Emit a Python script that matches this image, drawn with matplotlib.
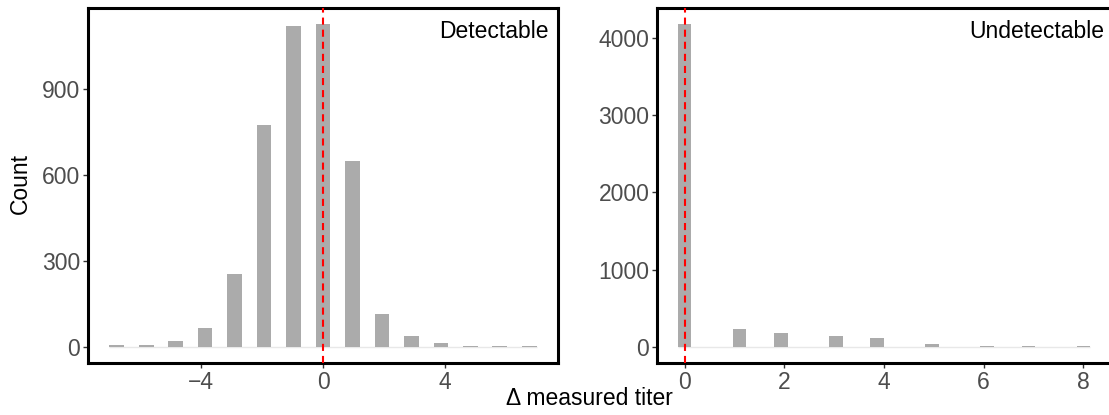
import numpy as np
import matplotlib
matplotlib.use("Agg")
import matplotlib.pyplot as plt

# Delta measured titer, counts per value
det_titer = [-7, -6, -5, -4, -3, -2, -1, 0, 1, 2, 3, 4, 5, 6, 7]
det_count = [6, 6, 21, 65, 253, 775, 1120, 1125, 647, 113, 38, 13, 3, 3, 3]

undet_titer = [0, 1, 2, 3, 4, 5, 6, 7, 8]
undet_count = [4180, 236, 185, 146, 120, 43, 10, 10, 10]

det_yticks = [0, 300, 600, 900]
det_xticks = [-4, 0, 4]
undet_yticks = [0, 1000, 2000, 3000, 4000]
undet_xticks = [0, 2, 4, 6, 8]

plt.rcParams['font.family'] = ['Liberation Sans', 'DejaVu Sans']

BAR = '#ABABAB'
TICK = '#4D4D4D'
FS = 16.5


def hist_bars(ax, titer, count, nbins=30):
    # ggplot-style histogram with 30 bins: bins centred on multiples of width
    titer = np.asarray(titer, dtype=float)
    span = titer.max() - titer.min()
    w = span / (nbins - 1)
    k = np.round(titer * (nbins - 1) / span)
    x = k * w
    ax.hlines(0, x.min() - w / 2, x.max() + w / 2, color='#E8E8E8', lw=1, zorder=1)
    ax.bar(x, count, width=w, color=BAR, zorder=2)
    ax.axvline(0, color='red', lw=1.5, ls=(0, (3.4, 2.4)), zorder=3)
    return x, w


def style(ax, xt, yt, label, xr):
    for s in ax.spines.values():
        s.set_linewidth(2.2)
        s.set_color('black')
    ax.set_xticks(xt)
    ax.set_yticks(yt)
    ax.set_xticklabels([str(v).replace('-', '\u2212') for v in xt])
    ax.tick_params(length=3.5, width=1, color='#333333', labelcolor=TICK,
                   labelsize=FS, pad=2)
    ax.text(xr, 0.9155, label, transform=ax.transAxes, ha='right', va='baseline',
            fontsize=FS, color='black')


fig = plt.figure(figsize=(11.09, 4.15), dpi=100)
ax1 = fig.add_axes([88 / 1109, 1 - 363 / 415, 470 / 1109, 355 / 415])
ax2 = fig.add_axes([657 / 1109, 1 - 363 / 415, 454 / 1109, 355 / 415])

x1, w1 = hist_bars(ax1, det_titer, det_count)
ax1.set_xlim(x1.min() - w1 / 2 - 0.7, x1.max() + w1 / 2 + 0.7)
ax1.set_ylim(-0.05 * max(det_count), 1.05 * max(det_count))
style(ax1, det_xticks, det_yticks, 'Detectable', 0.981)

x2, w2 = hist_bars(ax2, undet_titer, undet_count)
rng = x2.max() - x2.min() + w2
ax2.set_xlim(x2.min() - w2 / 2 - 0.05 * rng, x2.max() + w2 / 2 + 0.05 * rng)
ax2.set_ylim(-0.05 * max(undet_count), 1.05 * max(undet_count))
style(ax2, undet_xticks, undet_yticks, 'Undetectable', 0.985)

fig.text(20 / 1109, 1 - 184 / 415, 'Count', rotation=90, ha='center',
         va='center', fontsize=FS)
fig.text(589 / 1109, 1 - 398 / 415, '\u0394 measured titer', ha='center',
         va='center', fontsize=FS)

fig.savefig('out.png', dpi=100)
